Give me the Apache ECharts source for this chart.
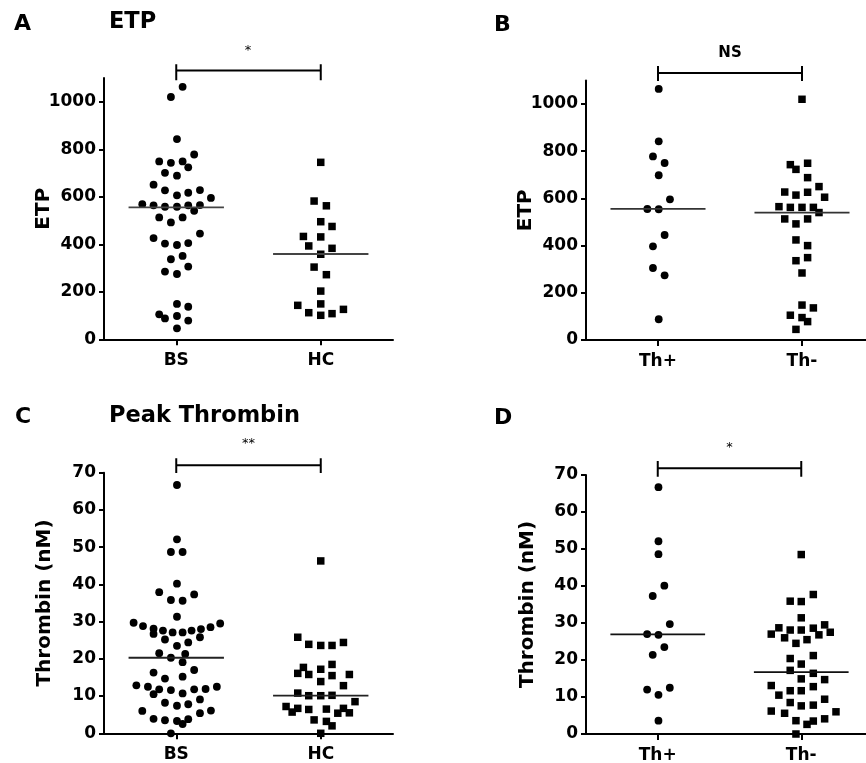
<!DOCTYPE html>
<html><head><meta charset="utf-8">
<script src="https://cdn.jsdelivr.net/npm/echarts@6/dist/echarts.min.js"></script>
<style>html,body{margin:0;padding:0;background:#fff}#c{width:866px;height:763px}</style>
</head><body><div id="c"></div>
<script>
// ---------- categories & ticks ----------
const groupsAC = ['BS', 'HC'];
const groupsBD = ['Th+', 'Th-'];
const etpTicks = [0, 200, 400, 600, 800, 1000];
const thrombinTicks = [0, 10, 20, 30, 40, 50, 60, 70];

// ---------- data: [horizontal offset from group centre, value] ----------
const etpBS = [[0.044,1063],[-0.037,1020],[0.005,843],[0.124,778],[-0.118,749],[-0.037,743],[0.044,749],[0.083,724],[-0.078,701],[0.005,689],[-0.157,651],[-0.078,627],[0.005,606],[0.083,617],[0.164,628],[0.240,595],[-0.235,569],[-0.157,564],[-0.078,558],[0.005,558],[0.083,564],[0.164,565],[0.124,541],[-0.118,513],[0.044,513],[-0.037,492],[0.164,445],[-0.157,426],[-0.078,403],[0.005,397],[0.083,405],[-0.037,337],[0.044,351],[0.083,306],[-0.078,285],[0.005,275],[0.005,149],[0.083,137],[-0.118,105],[-0.078,88],[0.005,98],[0.083,79],[0.005,46]];
const etpHC = [[0,745],[-0.046,582],[0.039,562],[0,495],[0.078,475],[-0.12,433],[0,431],[-0.083,393],[0.078,383],[0,358],[-0.046,304],[0.039,272],[0,203],[-0.159,143],[0,149],[-0.083,112],[0,101],[0.078,108],[0.157,126]];
const etpMeanAC = [555, 359];

const etpThPos = [[0.005,1064],[0.005,842],[-0.035,778],[0.046,750],[0.005,698],[0.083,596],[-0.074,555],[0.005,554],[0.046,445],[-0.035,397],[-0.035,305],[0.046,274],[0.005,88]];
const etpThNeg = [[0,1020],[-0.081,743],[-0.042,723],[0.039,749],[0.039,688],[0.118,650],[-0.12,627],[-0.042,614],[0.039,626],[0.157,605],[-0.16,565],[-0.081,562],[0,562],[0.079,562],[0.118,540],[-0.12,513],[-0.042,492],[0.039,513],[-0.042,424],[0.039,400],[-0.042,336],[0.039,349],[0,284],[0,148],[0.079,136],[-0.081,105],[0,95],[0.039,78],[-0.042,45]];
const etpMeanBD = [556, 540];

const thrBS = [[0.005,66.7],[0.005,52.1],[-0.037,48.7],[0.044,48.7],[0.005,40.2],[-0.118,37.9],[0.124,37.3],[-0.037,35.8],[0.044,35.6],[0.005,31.3],
  [-0.295,29.7],[-0.230,28.8],[-0.157,28.1],[-0.092,27.6],[-0.025,27.1],[0.044,27.1],[0.106,27.6],[0.171,28.0],[0.237,28.5],[0.304,29.5],
  [-0.157,26.7],[-0.078,25.2],[0.164,25.8],[0.083,24.4],[0.005,23.5],
  [-0.118,21.5],[-0.037,20.3],[0.062,21.3],[0.044,19.1],[0.124,17.0],
  [-0.157,16.3],[-0.078,14.7],[0.044,15.2],
  [-0.276,12.9],[-0.196,12.5],[-0.118,11.8],[-0.037,11.6],[-0.157,10.5],[0.044,10.7],[0.124,11.8],[0.203,11.9],[0.281,12.5],
  [-0.078,8.2],[0.005,7.4],[0.083,7.8],[0.164,9.1],
  [-0.235,6.0],[0.240,6.1],[0.164,5.4],
  [-0.157,3.9],[-0.078,3.5],[0.005,3.3],[0.083,3.8],[0.044,2.5],
  [-0.037,0]];
const thrHC = [[0,46.3],[-0.159,25.8],[-0.083,23.9],[0,23.6],[0.078,23.6],[0.157,24.4],[0.078,18.5],[-0.12,17.7],[0,17.2],[-0.159,16.1],[-0.083,15.8],[0.078,15.5],[0.198,15.8],[0,13.9],[0.157,12.8],[-0.159,10.8],[-0.083,10.1],[0,10.1],[0.078,10.2],[0.237,8.5],[-0.24,7.2],[-0.159,6.7],[-0.198,5.7],[-0.083,6.4],[0.039,6.5],[0.157,6.7],[0.118,5.4],[0.198,5.5],[-0.046,3.6],[0.039,3.2],[0.078,2.0],[0,0]];
const thrMeanAC = [20.3, 10.1];

const thrThPos = [[0.005,66.7],[0.005,52.1],[0.005,48.6],[0.046,40.1],[-0.035,37.3],[0.084,29.7],[-0.074,27.0],[0.005,26.8],[0.046,23.5],[-0.035,21.4],[-0.074,12.0],[0.084,12.5],[0.005,10.6],[0.005,3.6]];
const thrThNeg = [[0,48.5],[0.084,37.7],[-0.077,35.9],[0,35.8],[0,31.4],[0.163,29.5],[-0.156,28.7],[-0.077,28.1],[0,28.1],[0.084,28.6],[-0.209,27.0],[0.123,26.8],[0.202,27.5],[-0.116,26.0],[0.040,25.5],[-0.037,24.5],[0.084,21.2],[-0.077,20.4],[0,18.9],[-0.077,17.2],[0.084,16.4],[0,14.9],[0.163,14.7],[-0.209,13.1],[0.084,12.8],[-0.077,11.7],[0,11.7],[-0.156,10.5],[0.163,9.4],[-0.077,8.5],[0.084,7.8],[0,7.6],[-0.209,6.2],[-0.116,5.6],[0.242,6.0],[-0.037,3.6],[0.084,3.5],[0.163,4.1],[0.040,2.6],[-0.037,0]];
const thrMeanBD = [26.9, 16.7];

const sigLabels = ['*', 'NS', '**', '*'];

// ---------- layout ----------
const FONT = 'DejaVu Sans';
const panels = [
  {grid:{left:104, top:78,    width:289, height:261.3}, cats:groupsAC, ticks:etpTicks, max:1100, name:'ETP', gap:50,
   g1:etpBS, g2:etpHC, means:etpMeanAC, br:[1158,1132,1091], sig:[248,51], meanColor:'#444'},
  {grid:{left:586, top:80.4,  width:288, height:259.6}, cats:groupsBD, ticks:etpTicks, max:1100, name:'ETP', gap:50,
   g1:etpThPos, g2:etpThNeg, means:etpMeanBD, br:[1161,1131,1097], sig:[730,53], meanColor:'#333'},
  {grid:{left:104, top:472.7, width:289, height:260.6}, cats:groupsAC, ticks:thrombinTicks, max:70, name:'Thrombin (nM)', gap:49,
   g1:thrBS, g2:thrHC, means:thrMeanAC, br:[73.9,72.0,69.9], sig:[248.5,444], meanColor:'#222'},
  {grid:{left:586, top:475,   width:287, height:259}, cats:groupsBD, ticks:thrombinTicks, max:70, name:'Thrombin (nM)', gap:48,
   g1:thrThPos, g2:thrThNeg, means:thrMeanBD, br:[73.8,71.8,69.5], sig:[729.5,448], meanColor:'#111'}
];

const grids = [], xAxes = [], yAxes = [], series = [];
const black = '#000';
panels.forEach((p, i) => {
  grids.push(Object.assign({outerBoundsMode:'none', containLabel:false}, p.grid));
  xAxes.push({
    type:'value', gridIndex:i, min:0.5, max:2.5,
    axisLine:{show:true, onZero:false, lineStyle:{color:black, width:2}},
    axisTick:{show:true, customValues:[1,2], length:6, lineStyle:{color:black, width:2}},
    axisLabel:{show:true, customValues:[1,2], formatter:v => p.cats[Math.round(v)-1],
      color:black, fontFamily:FONT, fontWeight:'bold', fontSize:17, margin:13},
    splitLine:{show:false}
  });
  yAxes.push({
    type:'value', gridIndex:i, min:0, max:p.max,
    name:p.name, nameLocation:'middle', nameRotate:90, nameGap:p.gap, nameMoveOverlap:false,
    nameTextStyle:{color:black, fontFamily:FONT, fontWeight:'bold', fontSize:20},
    axisLine:{show:true, onZero:false, lineStyle:{color:black, width:2}},
    axisTick:{show:true, customValues:p.ticks, length:5, lineStyle:{color:black, width:2}},
    axisLabel:{show:true, customValues:p.ticks, formatter:v => String(v), color:black, fontFamily:FONT, fontWeight:'bold', fontSize:17, margin:8},
    splitLine:{show:false}
  });
  series.push({
    type:'scatter', xAxisIndex:i, yAxisIndex:i, symbol:'circle', symbolSize:7.8,
    itemStyle:{color:black, opacity:1}, clip:false, silent:true,
    data:p.g1.map(d => [1 + d[0], d[1]])
  });
  series.push({
    type:'scatter', xAxisIndex:i, yAxisIndex:i, symbol:'rect', symbolSize:7.5,
    itemStyle:{color:black, opacity:1}, clip:false, silent:true,
    data:p.g2.map(d => [2 + d[0], d[1]])
  });
  p.means.forEach((m, k) => {
    series.push({
      type:'line', xAxisIndex:i, yAxisIndex:i, symbol:'none', silent:true, clip:false,
      lineStyle:{color:p.meanColor, width:1.8}, z:3,
      data:[[k + 1 - 0.33, m], [k + 1 + 0.33, m]]
    });
  });
  const [hi, mid, lo] = p.br;
  series.push({
    type:'line', xAxisIndex:i, yAxisIndex:i, symbol:'none', silent:true, clip:false,
    lineStyle:{color:black, width:2}, z:3,
    data:[[1,hi],[1,lo],[1,mid],[2,mid],[2,hi],[2,lo]]
  });
});

function txt(t, x, y, size, weight, align) {
  return {type:'text', silent:true, style:{text:t, x:x, y:y, fill:black,
    fontFamily:FONT, fontSize:size, fontWeight:weight, textAlign:align || 'left', textVerticalAlign:'middle'}};
}
const graphics = [
  txt('A', 14, 24, 22, 'bold'),
  txt('ETP', 109, 22, 22.5, 'bold'),
  txt('B', 494, 25, 22, 'bold'),
  txt('C', 15, 417, 22, 'bold'),
  txt('Peak Thrombin', 109, 416, 22.5, 'bold'),
  txt('D', 494, 418, 22, 'bold')
];
panels.forEach((p, i) => {
  const isNS = sigLabels[i] === 'NS';
  graphics.push(txt(sigLabels[i], p.sig[0], p.sig[1], isNS ? 15 : 13, isNS ? 'bold' : 'normal', 'center'));
});

const chart = echarts.init(document.getElementById('c'), null, {renderer:'canvas'});
chart.setOption({
  backgroundColor:'#fff',
  animation:false,
  grid:grids, xAxis:xAxes, yAxis:yAxes, series:series, graphic:graphics
});
</script></body></html>
